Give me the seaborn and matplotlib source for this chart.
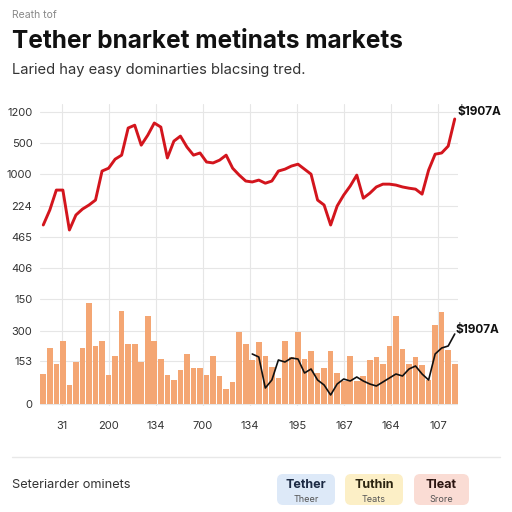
import numpy as np
import pandas as pd
import matplotlib.pyplot as plt
import seaborn as sns
from matplotlib.patches import FancyBboxPatch

# series values (one value per trading period)
preco = [238, 286, 350, 350, 222, 270, 289, 302, 318, 411,
         420, 449, 462, 549, 558, 494, 526, 565, 552, 453,
         507, 523, 488, 462, 469, 440, 437, 446, 462, 420,
         398, 379, 376, 382, 372, 379, 411, 417, 427, 433,
         417, 401, 318, 302, 238, 299, 334, 363, 398, 324,
         340, 360, 369, 369, 366, 360, 356, 353, 337, 414,
         465, 469, 491, 578]

volume = [300, 560, 400, 630, 190, 420, 560, 1010, 580, 630,
          290, 480, 930, 600, 600, 420, 880, 630, 450, 290,
          240, 340, 500, 360, 360, 290, 480, 280, 150, 220,
          720, 600, 440, 620, 480, 370, 260, 630, 470, 720,
          450, 530, 310, 360, 530, 310, 230, 480, 230, 280,
          440, 470, 400, 580, 880, 550, 400, 470, 390, 240,
          790, 920, 540, 400]

# black trend line only covers the later periods
tendencia_ini = 32
tendencia = [500, 470, 160, 240, 440, 420, 460, 450, 310, 350,
             240, 190, 90, 200, 250, 230, 270, 230, 200, 180,
             220, 260, 300, 280, 350, 380, 300, 240, 500, 560,
             580, 700]

top_ticks = [100, 200, 300, 400, 500, 600]
top_labels = ['406', '465', '224', '1000', '500', '1200']
bot_ticks = [0, 430, 730, 1050]
bot_labels = ['0', '153', '300', '150']
x_labels = ['31', '200', '134', '700', '134', '195', '167', '164', '107']

idx = np.arange(len(preco))
df = pd.DataFrame({'t': idx, 'preco': preco, 'volume': volume})
df_t = pd.DataFrame({'t': np.arange(tendencia_ini, tendencia_ini + len(tendencia)),
                     'v': tendencia})

sns.set_theme(style='whitegrid')
plt.rcParams['font.family'] = ['Inter', 'DejaVu Sans']
grid_kw = dict(color='#e6e6e6', linewidth=0.8)

fig = plt.figure(figsize=(5.12, 5.12), dpi=100)
ax_bot = fig.add_axes([40/512, 1 - 406/512, 418/512, 123/512])
ax_top = fig.add_axes([40/512, 1 - 283/512, 418/512, 179/512], sharex=ax_bot)

# price line
sns.lineplot(data=df, x='t', y='preco', ax=ax_top, color='#d3151d', linewidth=2.1)
ax_top.set_ylim(52, 626)
ax_top.set_yticks(top_ticks)
ax_top.set_yticklabels(top_labels)

# volume bars + trend
sns.barplot(data=df, x='t', y='volume', ax=ax_bot, color='#f4a673',
            saturation=1, width=0.86, edgecolor='none')
sns.lineplot(data=df_t, x='t', y='v', ax=ax_bot, color='#111111', linewidth=1.2)
ax_bot.set_ylim(-20, 1210)
ax_bot.set_yticks(bot_ticks)
ax_bot.set_yticklabels(bot_labels)
ax_bot.set_xlim(-0.5, len(preco) - 0.5)
xt = 2.86 + 7.2 * np.arange(len(x_labels))
ax_bot.set_xticks(xt)
ax_bot.set_xticklabels(x_labels)

for ax in (ax_top, ax_bot):
    ax.set_facecolor('none')
    ax.set_xlabel('')
    ax.set_ylabel('')
    ax.grid(True, **grid_kw)
    ax.set_axisbelow(True)
    for s in ax.spines.values():
        s.set_visible(False)
    ax.tick_params(length=0, labelsize=8, colors='#333333')
ax_top.tick_params(axis='y', pad=5.5)
ax_bot.tick_params(axis='y', pad=5.5)
ax_bot.tick_params(axis='x', pad=11)
plt.setp(ax_top.get_xticklabels(), visible=False)

# end labels
fig.text(457/512, 1 - 112/512, r'\$1907A', fontsize=8.5, fontweight='bold',
         color='#111111', va='center')
fig.text(456/512, 1 - 330/512, r'\$1907A', fontsize=8.5, fontweight='bold',
         color='#111111', va='center')

# header
fig.text(12/512, 1 - 15/512, 'Reath tof', fontsize=7.5, color='#888888', va='center')
fig.text(12/512, 1 - 42/512, 'Tether bnarket metinats markets', fontsize=17.6,
         fontweight='bold', color='#111111', va='center')
fig.text(12/512, 1 - 70/512, 'Laried hay easy dominarties blacsing tred.',
         fontsize=10.6, color='#333333', va='center')

# footer
fig.add_artist(plt.Line2D([12/512, 500/512], [1 - 457/512, 1 - 457/512],
                          color='#e8e8e8', linewidth=1))
fig.text(12/512, 1 - 485/512, 'Seteriarder ominets', fontsize=9.2,
         color='#333333', va='center')

badges = [('Tether', 'Theer', '#dde9f8', '#1c2a44', 277, 335),
          ('Tuthin', 'Teats', '#fcefc6', '#2b2410', 345, 403),
          ('Tleat', 'Srore', '#fadcd4', '#2b1410', 414, 469)]
for titulo, sub, fc, tc, x0, x1 in badges:
    fig.add_artist(FancyBboxPatch((x0/512, 1 - 505/512), (x1 - x0)/512, 31/512,
                                  boxstyle='round,pad=0,rounding_size=0.012',
                                  facecolor=fc, edgecolor='none',
                                  transform=fig.transFigure))
    xc = (x0 + x1) / 2 / 512
    fig.text(xc, 1 - 485/512, titulo, fontsize=9, fontweight='bold',
             color=tc, ha='center', va='center')
    fig.text(xc, 1 - 499/512, sub, fontsize=6.5, color='#555555',
             ha='center', va='center')

plt.savefig('out.png', dpi=100)
plt.close()
